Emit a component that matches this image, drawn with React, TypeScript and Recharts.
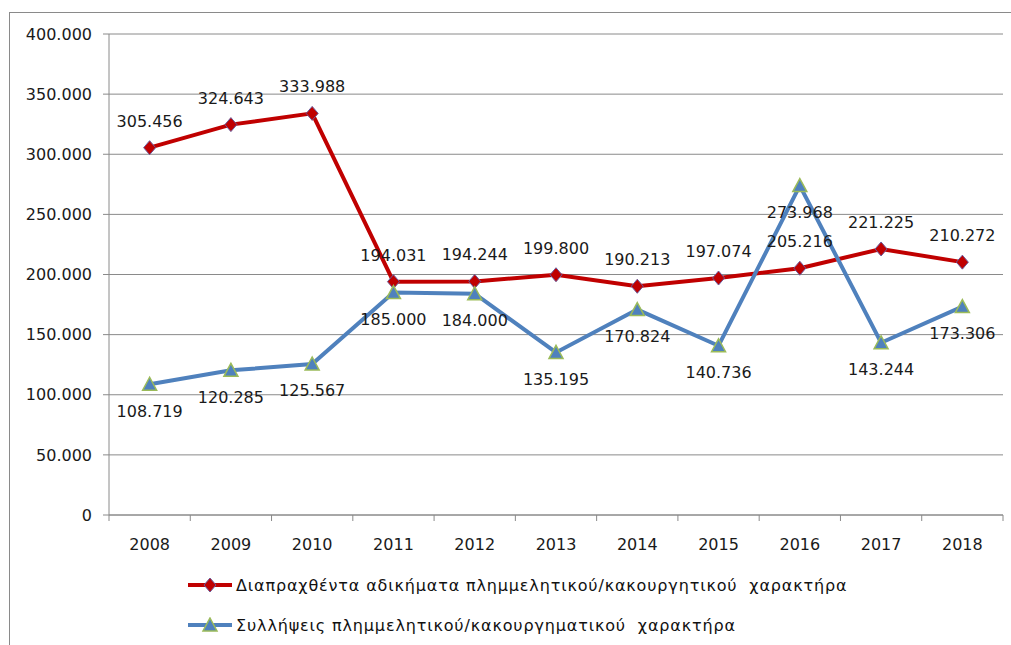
import { LineChart, Line, XAxis, YAxis, CartesianGrid, Legend, LabelList } from 'recharts'

const years = ['2008', '2009', '2010', '2011', '2012', '2013', '2014', '2015', '2016', '2017', '2018']
const offences = [305456, 324643, 333988, 194031, 194244, 199800, 190213, 197074, 205216, 221225, 210272]
const arrests = [108719, 120285, 125567, 185000, 184000, 135195, 170824, 140736, 273968, 143244, 173306]
const yTicks = [0, 50000, 100000, 150000, 200000, 250000, 300000, 350000, 400000]
const offencesName = 'Διαπραχθέντα αδικήματα πλημμελητικού/κακουργητικού  χαρακτήρα'
const arrestsName = 'Συλλήψεις πλημμελητικού/κακουργηματικού  χαρακτήρα'

const RED = '#C00000'
const BLUE = '#4F81BD'
const GRID = '#8a8a8a'
const FONT = '"DejaVu Sans", Verdana, sans-serif'

const data = years.map((year, i) => ({ i, year, offences: offences[i], arrests: arrests[i] }))
// category centres sit on integers, band edges on the halves
const xTicks = [...years.map((_, i) => i), ...years.map((_, i) => i + 0.5), -0.5].sort((a, b) => a - b)

const fmt = (v: number) => (v === 0 ? '0' : v.toLocaleString('de-DE'))

const TICK_SIZE = 6
const TICK_MARGIN = 17

function XTick(props: any) {
  const { x, y, payload } = props
  const v = payload.value as number
  if (Number.isInteger(v)) {
    return (
      <text x={x} y={y + 12} textAnchor="middle" fill="#1a1a1a" fontSize={16} fontFamily={FONT}>
        {years[v]}
      </text>
    )
  }
  const top = y - TICK_MARGIN - TICK_SIZE
  return <line x1={x} x2={x} y1={top} y2={top + TICK_SIZE} stroke={GRID} strokeWidth={1} />
}

function Diamond(props: any) {
  const { cx, cy } = props
  if (cx == null || cy == null) return null
  return (
    <polygon
      points={`${cx},${cy - 7} ${cx + 6},${cy} ${cx},${cy + 7} ${cx - 6},${cy}`}
      fill={RED}
      stroke="#6a5a9a"
      strokeWidth={1}
    />
  )
}

function Triangle(props: any) {
  const { cx, cy } = props
  if (cx == null || cy == null) return null
  return (
    <polygon
      points={`${cx},${cy - 7} ${cx + 7},${cy + 6} ${cx - 7},${cy + 6}`}
      fill={BLUE}
      stroke="#9BBB59"
      strokeWidth={1.5}
    />
  )
}

function LegendBox() {
  const row = (color: string, marker: any, label: string) => (
    <div style={{ display: 'flex', alignItems: 'center', height: 40 }}>
      <svg width={48} height={16} style={{ flex: 'none' }}>
        <line x1={2} x2={46} y1={8} y2={8} stroke={color} strokeWidth={4} />
        {marker}
      </svg>
      <span
        style={{
          fontFamily: FONT,
          fontSize: 16,
          letterSpacing: 0.85,
          color: '#111',
          whiteSpace: 'pre',
          marginLeft: 2,
        }}
      >
        {label}
      </span>
    </div>
  )
  return (
    <div>
      {row(RED, <Diamond cx={24} cy={8} />, offencesName)}
      {row(BLUE, <Triangle cx={24} cy={8} />, arrestsName)}
    </div>
  )
}

export default function App() {
  return (
    <div style={{ position: 'absolute', left: 0, top: 0, width: 1011, height: 645, background: '#fff', overflow: 'hidden' }}>
      <div
        style={{
          position: 'absolute',
          left: 9,
          top: 12,
          width: 1010,
          height: 640,
          borderLeft: `1px solid ${GRID}`,
          borderTop: `1px solid ${GRID}`,
        }}
      />
      <div style={{ position: 'absolute', left: 0, top: 0 }}>
        <LineChart width={1011} height={645} data={data} margin={{ top: 34, right: 8, left: 0, bottom: 90 }}>
          <CartesianGrid horizontal vertical={false} stroke={GRID} strokeWidth={1} />
          <XAxis
            dataKey="i"
            type="number"
            domain={[-0.5, 10.5]}
            ticks={xTicks}
            interval={0}
            height={40}
            tickSize={TICK_SIZE}
            tickMargin={TICK_MARGIN}
            tickLine={false}
            axisLine={{ stroke: GRID }}
            tick={<XTick />}
          />
          <YAxis
            width={109}
            domain={[0, 400000]}
            ticks={yTicks}
            interval={0}
            tickFormatter={fmt}
            tickSize={6}
            tickMargin={11}
            tickLine={{ stroke: GRID }}
            axisLine={{ stroke: GRID }}
            tick={{ fill: '#1a1a1a', fontSize: 16, fontFamily: FONT }}
          />
          <Legend
            layout="horizontal"
            verticalAlign="middle"
            align="center"
            wrapperStyle={{ top: 565, left: 186, width: 800 }}
            content={<LegendBox />}
          />
          <Line
            dataKey="offences"
            name={offencesName}
            stroke={RED}
            strokeWidth={4}
            dot={<Diamond />}
            activeDot={false}
            isAnimationActive={false}
          >
            <LabelList dataKey="offences" position="top" offset={21} formatter={fmt} fill="#1a1a1a" fontSize={16} fontFamily={FONT} />
          </Line>
          <Line
            dataKey="arrests"
            name={arrestsName}
            stroke={BLUE}
            strokeWidth={4}
            dot={<Triangle />}
            activeDot={false}
            isAnimationActive={false}
          >
            <LabelList dataKey="arrests" position="bottom" offset={21} formatter={fmt} fill="#1a1a1a" fontSize={16} fontFamily={FONT} />
          </Line>
        </LineChart>
      </div>
    </div>
  )
}
